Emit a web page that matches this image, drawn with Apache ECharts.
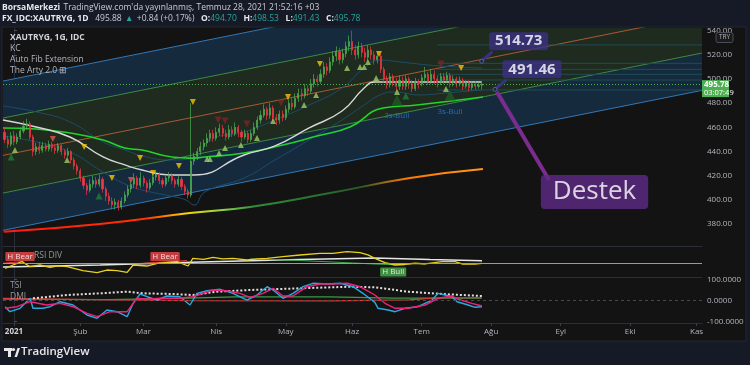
<!DOCTYPE html>
<html><head><meta charset="utf-8">
<script src="https://cdn.jsdelivr.net/npm/echarts@6/dist/echarts.min.js"></script>
<style>html,body{margin:0;padding:0;background:#161a26;}#c{width:750px;height:365px;}</style>
</head><body><div id="c"></div><script>
// ---------------- DATA ----------------
const XMIN = -3.48, XMAX = 217.72;
const monthIdx = [0,21,41,64,86,107,129,151,173,195,216];
const monthNames = ['2021','Şub','Mar','Nis','May','Haz','Tem','Ağu','Eyl','Eki','Kas'];
const priceTicks = [380,400,420,440,460,480,500,520,540];
const tsiTicks = [100,0,-100];
const firstIdx = -3;
// [open, close, low, high] per trading day
const ohlc = [
[456,450,447,460],[450,446,443,453],[446,453,444,456],[453,448,445,457],
[448,452,446,455],[452,457,450,460],[457,461,455,465],[461,463,458,467],[463,452,450,465],
[452,440,436,454],[440,444,437,447],[444,441,438,448],[441,445,439,448],[445,442,440,447],
[442,446,440,449],[446,443,440,448],[443,441,438,446],[441,445,439,447],[445,440,437,446],
[440,437,434,442],[437,440,435,443],[440,433,430,441],[433,428,425,435],[428,424,421,430],
[424,418,415,426],[418,412,409,420],[412,408,404,414],[408,413,406,417],[413,416,410,420],
[416,413,410,419],[413,417,411,421],[417,409,406,419],[409,403,399,411],[403,399,396,406],
[399,396,392,402],[396,398,392,401],[398,394,391,400],[394,399,392,402],[399,404,397,407],
[404,409,402,412],[409,413,406,416],[413,418,410,422],[418,412,409,420],[412,418,410,423],
[418,414,411,420],[414,410,406,416],[410,414,408,417],[414,419,412,422],[419,421,416,424],
[421,416,413,423],[416,413,410,418],[413,418,411,421],[418,420,415,423],[420,416,413,422],
[416,413,410,418],[413,417,411,420],[417,411,408,419],[411,407,404,413],[407,404,401,409],
[404,432,402,480],[432,436,429,439],[436,440,433,443],[440,444,437,448],[444,447,441,450],
[447,451,444,455],[451,455,448,458],[455,451,448,458],[451,456,449,460],[456,459,453,463],
[459,455,452,462],[455,452,449,458],[452,458,450,462],[458,455,452,461],[455,460,453,464],
[460,456,452,462],[456,452,448,458],[452,455,450,458],[455,450,447,457],[450,455,448,458],
[455,460,453,464],[460,466,458,469],[466,470,463,474],[470,475,468,479],[475,470,466,477],
[470,476,467,480],[476,468,465,478],[468,466,462,471],[466,471,463,474],[471,468,465,474],
[468,475,466,478],[475,480,472,483],[480,477,474,484],[477,484,475,488],[484,488,481,492],
[488,486,482,492],[486,492,484,496],[492,490,486,495],[490,496,488,500],[496,500,493,504],
[500,498,494,503],[498,504,496,508],[504,510,501,514],[510,507,503,513],[507,514,505,518],
[514,519,511,523],[519,523,515,527],[523,516,512,526],[516,521,513,525],[521,527,518,531],
[527,531,523,536],[531,524,520,540],[524,520,516,528],[520,527,517,531],[527,522,518,530],
[522,518,514,526],[518,524,515,528],[524,520,516,527],[520,516,512,523],[516,519,513,522],
[519,508,505,521],[508,500,497,510],[500,496,492,503],[496,502,493,505],[502,498,494,504],
[498,494,490,501],[494,499,491,503],[499,494,491,502],[494,500,491,503],[500,496,492,502],
[496,492,489,499],[492,498,490,501],[498,496,492,500],[496,501,494,504],[501,504,498,510],
[504,498,495,506],[498,504,496,508],[504,500,496,507],[500,497,493,503],[497,502,495,505],
[502,499,496,505],[499,503,497,506],[503,497,493,505],[497,500,494,503],[500,496,493,502],
[496,499,494,502],[499,494,491,501],[494,497,492,499],[497,493,490,499],[493,496,491,498],
[496,494,491,498],[494,494.9,492,497],[494.7,495.78,491.43,498.53]
];
const lastPrice = 495.78;
// regression channel (value at left and right edge)
const chX = [-3.5, 217.7];
const chTopBlue = [498.3, 614.2];
const chUpGreen = [467.7, 583.6];
const chMid = [436.8, 552.7];
const chLowGreen = [405.6, 521.5];
const chLowBlue = [374.7, 490.6];
// moving averages [index, price]
const maWhite = [[-3.5,466.1],[7,460.3],[17.7,452.0],[28.2,435.5],[35.1,428.9],[40.5,424.7],[49.4,420.6],[57,420.6],[72.8,437.1],[82.6,444.6],[93.4,459.5],[103.8,473.5],[110.8,492.6],[114.2,497.5],[120.6,497.5],[148,497.5]];
const maGreen = [[-3.5,459.5],[7,458.6],[17.7,455.3],[28.2,449.5],[35.1,442.9],[40.5,441.2],[50,435.4],[55.4,434.5],[60.4,435.4],[72.8,438.8],[85.1,445.4],[95.9,452.8],[106.3,460.3],[116.8,476.0],[127.5,478.5],[148.4,485.1]];
const maLong = [[-3.2,373.6],[27.2,380],[55.7,389.1],[74.7,394.1],[100,405.6],[125.3,418.1],[148.4,425.5]];
const kcUpper = [[-3.5,477.7],[7,472.8],[17.7,464.5],[28.2,447.9],[35.1,441.3],[40.5,436.4],[49.4,433.0],[57,434.7],[62,449.6],[72.8,456.2],[82.6,466.1],[93.4,478.5],[103.8,492.6],[110.8,509.1],[115.8,515.7],[122.2,514.1],[134.8,510.8],[148.1,509.1]];
const kcLower = [[-3.5,452.8],[7,447.9],[17.7,439.6],[28.2,423.0],[35.1,413.1],[40.5,408.2],[49.4,403.2],[54.4,399.9],[57,395.7],[60.4,406.5],[72.8,418.1],[82.6,433.0],[93.4,449.6],[103.8,466.1],[110.8,478.5],[115.8,486.8],[120.6,489.3],[128.2,486.8],[136.4,488.4],[148.1,490.9]];
const fibLevels = [528.2, 513.0, 508.0, 503.9, 499.2, 490.9];
const fibStart = 134;
// signal markers
const triYellowDown = [[22.2,443.7],[31,418.1],[39.9,434.6],[44,422.2],[52.2,428],[56.6,481],[86.7,485.1],[96.8,512.4],[115.5,520.7],[141.5,509.1]];
const triRedDown = [[12.3,450.4],[37,416.4]];
const triDarkRedDown = [[64.6,466.1],[66.8,465.3],[73.7,462.8],[84.5,480.2],[135.1,512.4]];
const triLimeUp = [[0.3,441.2],[16.8,433],[61.1,433.8],[62,433.8],[64.9,438.8],[66.8,442.9],[71.8,445.4],[76.9,451.2],[82,465.3],[91.8,478.5],[95.6,486.8],[105.4,509.1],[109.5,510],[110.8,510],[112,514.1],[114.6,500.8],[121.2,489.3],[136.7,491.7]];
const triDarkGreenUp = [[-0.9,435.4],[26.9,403.2],[124,486]];
const triBigGreenUp = [[121.2,482.6],[138,486.8]];
const bullLabels = [[121.1,469.4],[138,473]];
// callouts
const calloutPts = [[148,514.73],[152.2,491.46]];
const calloutTails = [[[148,514.73],[151.4,522.6]],[[152.2,491.46],[155.7,499.2]]];
const destekLine = [[152.8,489.4],[169.3,416.4]];
const destekPt = [183.7,406.5];
// RSI pane
const rsi = [[-2.8,39.6],[-0.3,47.1],[2.5,54.6],[5.1,43.3],[8.2,47.1],[11.4,41.9],[14,45],[16.8,43.3],[21.8,34.2],[26.3,29.7],[29.4,35.8],[32.6,34.2],[35.8,30.6],[37.7,47.1],[42.1,44.8],[45.3,50.9],[51.6,54.6],[55.1,44.8],[56.6,62.2],[60,60],[63,64.5],[66,61],[69.3,62.2],[73.7,58.4],[77,61],[80.1,62.2],[85.1,65.8],[90.5,69.7],[96.8,73.5],[100.9,73.5],[105.4,77.1],[109.5,74.9],[112,70],[114.2,62.2],[117.4,52.3],[120.6,47.1],[124.7,49.4],[127,51],[130.1,49.4],[135.4,54.6],[139.6,54.6],[141.8,49.4],[145.9,49.4],[148.1,50.9]];
const rsiMa = [[-3.5,42.6],[27.2,47.1],[58.9,53.9],[90.5,59.5],[114.2,62.9],[131.6,59.5],[148.1,56.8]];
const rsiGreen = [[74.7,60.6],[90.5,57.3],[114.2,49.4],[123.7,47.1]];
const rsiRed = [[[-3.5,51],[3,55]],[[39.9,50.5],[54.7,57.3]]];
const rsiMid = 50;
const bearLabels = [[1.9,66.2],[47.8,66.2]];
const bullDivLabels = [[120,31.3]];
// TSI / DMI pane
const tsi = [[-2.8,-28.6],[-1.3,-52.4],[1.9,-36.2],[5.1,11.4],[6,-36.2],[9.2,-36.2],[11.4,-28.6],[14.6,-4.8],[18.7,-20.5],[23.1,-68.1],[26.3,-83.8],[29.4,-44.3],[32.6,-52.4],[35.8,-76.2],[37.7,-12.4],[39.9,31.9],[42.1,19],[45.3,3.3],[48.4,22.4],[52.5,19],[55.7,-20.5],[57.9,35.2],[61.1,47.6],[65.2,54.3],[69.3,35.2],[73.7,3.3],[76.9,27.1],[80.1,66.7],[82,51],[85.1,11.4],[88.3,35.2],[91.5,66.7],[94.6,82.9],[99.1,79.5],[103.2,82.9],[107.3,66.7],[110.4,35.2],[114.2,-8],[115.2,-36.2],[118.4,-44.3],[120.6,-52.4],[123.7,-36.2],[127.8,-28.6],[132.3,3.3],[134.2,35.2],[136.4,27.1],[138.6,19],[140.2,-4.8],[143.7,-20.5],[145.9,-31.4],[148.1,-28.6]];
const tsiSignal = [[-2.8,-36.2],[0.9,-28.6],[5.1,-4.8],[10.4,-20.5],[14.6,-12.4],[18.7,-28.6],[23.1,-60],[26.3,-76.2],[30.4,-52.4],[35.8,-52.4],[38.9,11.4],[42.1,6.7],[46.2,11.4],[52.5,11.4],[56.6,19],[63,51],[67.4,47.6],[71.5,35.2],[74.7,16.2],[78.8,35.2],[82,59],[85.1,22.4],[88.3,22.4],[92.7,66.7],[96.8,79.5],[100.9,79.5],[105.4,82.9],[109.5,66.7],[114.2,27.1],[117.4,-12.4],[120.6,-36.2],[124.7,-36.2],[130.1,-20.5],[134.2,11.4],[138.6,22.4],[140.5,6.7],[144.9,-12.4],[148.1,-25.2]];
const tsiDots = [[6,11.4],[16.8,27.1],[27.2,35.2],[35.8,42.9],[40.8,35.2],[50.3,31.9],[56.6,27.1],[64.2,42.9],[74.7,51],[90.5,59],[106.3,66.7],[114.2,63.8],[124.7,42.9],[135.4,31.9],[148.1,22.4]];
const dmiPlus = [[-3.5,7],[30,5],[55,12],[70,18],[100,18],[120,12],[148,12]];
const dmiMinus = [[-3.5,11],[30,4],[55,0],[100,-1],[125,4],[135,14],[148,14]];

// ---------------- STYLE / BUILD ----------------
const FONT = "'Open Sans','Noto Sans',sans-serif";
const AX = '#b2b5be';
const chart = echarts.init(document.getElementById('c'), null, {renderer:'canvas'});
const candleData = ohlc.map((r,k)=>[firstIdx+k, r[0], r[1], r[2], r[3]]);
const bandDefs = [[chLowBlue, chLowGreen, '#162a3d'],[chLowGreen, chUpGreen, '#1e2b1e'],[chUpGreen, chTopBlue, '#162a3d']];

function ln(data, color, width, extra, gi){
  return Object.assign({type:'line', xAxisIndex:gi||0, yAxisIndex:gi||0, data, showSymbol:false, symbol:'none', silent:true,
    lineStyle:{color, width}, z:3, animation:false}, extra||{});
}
function tri(data, color, size, down, z){
  return {type:'scatter', data, symbol:'triangle', symbolSize:size, symbolRotate: down?180:0, itemStyle:{color}, z:z||6, silent:true, animation:false};
}
function xAx(gi, show){
  return {type:'value', gridIndex:gi, min:XMIN, max:XMAX,
    axisLine:{show:true, onZero:false, lineStyle:{color:'#2a2e39'}},
    axisTick:{show:show, customValues:monthIdx, length:3, lineStyle:{color:'#3a3e49'}},
    axisLabel:{show:show, customValues:monthIdx, margin:5, color:AX, fontSize:8, fontFamily:FONT,
      formatter:v=>{const k=monthIdx.indexOf(v); return k===0?'{b|'+monthNames[k]+'}':(k>0?monthNames[k]:'');},
      rich:{b:{fontWeight:'bold', color:'#d1d4dc', fontSize:8, fontFamily:FONT}}},
    splitLine:{show:false}};
}
const series = [];
series.push({type:'custom', xAxisIndex:0, yAxisIndex:0, clip:true, silent:true, z:1, animation:false,
  data: bandDefs.map(()=>[0,440]), encode:{x:0,y:1},
  renderItem:(params, api)=>{
    const b = bandDefs[params.dataIndex];
    const pts=[api.coord([chX[0],b[0][0]]),api.coord([chX[1],b[0][1]]),api.coord([chX[1],b[1][1]]),api.coord([chX[0],b[1][0]])];
    const cs=params.coordSys;
    return {type:'polygon', shape:{points:pts}, style:{fill:b[2]}, clipPath:{type:'rect', shape:{x:cs.x,y:cs.y,width:cs.width,height:cs.height}}};
  }});
const chPair = a=>[[chX[0],a[0]],[chX[1],a[1]]];
series.push(ln(chPair(chTopBlue),'#2f78b7',1,{z:2}));
series.push(ln(chPair(chUpGreen),'#3f8a45',1,{z:2}));
series.push(ln(chPair(chMid),'#a85a36',1,{z:2}));
series.push(ln(chPair(chLowGreen),'#3f8a45',1,{z:2}));
series.push(ln(chPair(chLowBlue),'#2f78b7',1,{z:2}));
fibLevels.forEach(v=>series.push(ln([[fibStart,v],[XMAX,v]],'#1f4d57',1,{z:2})));
series.push(ln(maLong,new echarts.graphic.LinearGradient(0,0,1,0,[
  {offset:0,color:'#ff1a1a'},{offset:0.3,color:'#ff3300'},{offset:0.38,color:'#ffd400'},{offset:0.46,color:'#8bd44a'},
  {offset:0.52,color:'#2f8f3a'},{offset:0.74,color:'#2a5a2a'},{offset:0.84,color:'#ff7a00'},{offset:1,color:'#ff9a1a'}]),2,{smooth:true}));
series.push(ln(kcUpper,'#1f4c6b',1,{smooth:true}));
series.push(ln(kcLower,'#1f4c6b',1,{smooth:true}));
series.push(ln(maGreen,'#1fd42a',1.6,{smooth:true}));
series.push(ln(maWhite,'#d8d8d8',1.4,{smooth:true}));
series.push({type:'candlestick', data:candleData, encode:{x:0,y:[1,2,3,4]}, barWidth:1.6, z:4, animation:false, silent:true,
  itemStyle:{color:'#4caf50', color0:'#f23645', borderColor:'#4caf50', borderColor0:'#f23645', borderWidth:0.7},
  markLine:{symbol:'none', silent:true, animation:false, label:{show:false}, lineStyle:{color:'#4caf50', type:[1,2], width:1}, data:[{yAxis:lastPrice}]}});
series.push(tri(triBigGreenUp,'#1e5a24',11,false,5));
series.push(tri(triDarkGreenUp,'#237a35',7,false));
series.push(tri(triLimeUp,'#9ccc65',6,false));
series.push(tri(triYellowDown,'#f5c400',6,true));
series.push(tri(triRedDown,'#ef5350',6,true));
series.push(tri(triDarkRedDown,'#7a2424',7,true));
series.push({type:'scatter', data:bullLabels, symbolSize:0, silent:true, animation:false, z:6,
  label:{show:true, position:'inside', formatter:'3s-Bull', color:'#2a7fd4', fontSize:8, fontFamily:FONT}});
calloutTails.forEach(t=>series.push(ln(t,'#3b3183',3,{z:7})));
series.push(ln(destekLine,'#7b2c8f',4,{z:7}));
series.push({type:'scatter', data:calloutPts, symbol:'circle', symbolSize:4, silent:true, animation:false, z:8,
  itemStyle:{color:'#1b2236', borderColor:'#5c6fa8', borderWidth:1},
  label:{show:true, position:'inside', offset:[37,-20], formatter:p=>p.value[1].toFixed(2), color:'#ffffff', fontSize:15, fontWeight:'bold',
    fontFamily:FONT, backgroundColor:'#3b3183', padding:[2,6,1,6], borderRadius:3}});
series.push({type:'scatter', data:[destekPt], symbolSize:0, silent:true, animation:false, z:8,
  label:{show:true, position:'inside', formatter:'Destek', color:'#ffffff', fontSize:26, fontFamily:FONT,
    backgroundColor:'#5f2a87', padding:[4,12,4,12], borderRadius:4}});
// RSI pane
series.push(ln(rsiMa,'#e6e6e6',1.5,{xAxisIndex:1,yAxisIndex:1, markLine:{symbol:'none',silent:true,animation:false,label:{show:false},lineStyle:{color:'#9a9a9a',type:'solid',width:1},data:[{yAxis:rsiMid}]}},1));
series.push(ln(rsiGreen,'#3aa64a',1.2,{},1));
rsiRed.forEach(s=>series.push(ln(s,'#e53935',1.2,{},1)));
series.push(ln(rsi,'#e8d21d',1.3,{},1));
series.push({type:'scatter', xAxisIndex:1, yAxisIndex:1, data:bearLabels, symbolSize:0, silent:true, animation:false, z:8,
  label:{show:true, position:'inside', formatter:'H Bear', color:'#ffffff', fontSize:8, fontFamily:FONT, backgroundColor:'#f0474a', padding:[1,2,0,2], borderRadius:1}});
series.push({type:'scatter', xAxisIndex:1, yAxisIndex:1, data:bullDivLabels, symbolSize:0, silent:true, animation:false, z:8,
  label:{show:true, position:'inside', formatter:'H Bull', color:'#ffffff', fontSize:8, fontFamily:FONT, backgroundColor:'#4caf50', padding:[1,2,0,2], borderRadius:1}});
// TSI pane
series.push(ln(dmiPlus,'#3d9a46',1.2,{markLine:{symbol:'none',silent:true,animation:false,label:{show:false},lineStyle:{color:'#4a4a4a',type:[3,3],width:1},data:[{yAxis:0}]}},2));
series.push(ln(dmiMinus,'#d83a35',1.2,{},2));
series.push(ln(tsiDots,'#e0e0e0',2,{lineStyle:{color:'#e0e0e0',width:2,type:[2,2]}},2));
series.push(ln(tsi,'#29a9e0',1.4,{},2));
series.push(ln(tsiSignal,'#f0217a',1.4,{},2));

const option = {
  backgroundColor:'#161a26', animation:false,
  grid:[{left:3,right:48,top:28,height:218},{left:3,right:48,top:246,height:31},{left:3,right:48,top:277,height:46}],
  xAxis:[xAx(0,false),xAx(1,false),xAx(2,true)],
  yAxis:[
    {type:'value', gridIndex:0, position:'right', min:361.79, max:542.23,
     axisLine:{show:true,lineStyle:{color:'#2a2e39'}}, axisTick:{show:true,customValues:priceTicks,length:3,lineStyle:{color:'#4a4e59'}},
     axisLabel:{customValues:priceTicks, formatter:v=>v.toFixed(2), color:AX, fontSize:8, margin:5, fontFamily:FONT}, splitLine:{show:false}},
    {type:'value', gridIndex:1, position:'right', min:20, max:90, axisLine:{show:true,lineStyle:{color:'#2a2e39'}}, axisTick:{show:false}, axisLabel:{show:false}, splitLine:{show:false}},
    {type:'value', gridIndex:2, position:'right', min:-106.2, max:112.9,
     axisLine:{show:true,lineStyle:{color:'#2a2e39'}}, axisTick:{show:true,customValues:tsiTicks,length:3,lineStyle:{color:'#4a4e59'}},
     axisLabel:{customValues:tsiTicks, formatter:v=>v.toFixed(4), color:AX, fontSize:8, margin:5, fontFamily:FONT}, splitLine:{show:false}}
  ],
  graphic:{elements:[
    {id:'panel', type:'rect', z:-10, shape:{x:2,y:27,width:744,height:314}, style:{fill:'#131313', stroke:'#23262f', lineWidth:1}, silent:true},
    {id:'h1', type:'text', left:2, top:2, z:10, style:{text:'{b|BorsaMerkezi} {n|TradingView.com\'da yayınlanmış, Temmuz 28, 2021 21:52:16 +03}',
      rich:{b:{fontWeight:'bold', fill:'#e6e8ee', fontSize:8.5, fontFamily:FONT}, n:{fill:'#c9ccd4', fontSize:8.5, fontFamily:FONT}}}},
    {id:'h2', type:'text', left:2, top:13, z:10, style:{text:'{b|FX_IDC:XAUTRYG, 1D}  {n|495.88} {t|▲} {n|+0.84 (+0.17%)}  {b|O:}{t|494.70}  {b|H:}{t|498.53}  {b|L:}{t|491.43}  {b|C:}{t|495.78}',
      rich:{b:{fontWeight:'bold', fill:'#e6e8ee', fontSize:8.5, fontFamily:FONT}, n:{fill:'#c9ccd4', fontSize:8.5, fontFamily:FONT}, t:{fill:'#26a69a', fontSize:8.5, fontFamily:FONT}}}},
    {id:'lg1', type:'text', left:10, top:33, z:10, style:{text:'XAUTRYG, 1G, IDC', fill:'#d1d4dc', fontSize:8.5, fontWeight:'bold', fontFamily:FONT}},
    {id:'lg2', type:'text', left:10, top:44, z:10, style:{text:'KC', fill:'#b2b5be', fontSize:8.5, fontFamily:FONT}},
    {id:'lg3', type:'text', left:10, top:55, z:10, style:{text:'Auto Fib Extension', fill:'#b2b5be', fontSize:8.5, fontFamily:FONT}},
    {id:'lg4', type:'text', left:10, top:66, z:10, style:{text:'The Arty 2.0 ⊞', fill:'#b2b5be', fontSize:8.5, fontFamily:FONT}},
    {id:'rsiT', type:'text', left:34, top:251, z:10, style:{text:'RSI DIV', fill:'#9598a1', fontSize:8.5, fontFamily:FONT}},
    {id:'tsiT', type:'text', left:10, top:281, z:10, style:{text:'TSI', fill:'#9598a1', fontSize:8.5, fontFamily:FONT}},
    {id:'dmiT', type:'text', left:10, top:292, z:10, style:{text:'DMI', fill:'#9598a1', fontSize:8.5, fontFamily:FONT}},
    {id:'tryB', type:'rect', z:10, shape:{x:716,y:32.5,width:17,height:10,r:2}, style:{fill:'#1b1b1b', stroke:'#4a4e59', lineWidth:1}},
    {id:'tryT', type:'text', z:11, x:724.5, y:37.5, style:{text:'TRY', fill:'#b2b5be', fontSize:6.5, fontFamily:FONT, align:'center', verticalAlign:'middle'}},
    {id:'logo1', type:'rect', z:10, shape:{x:4,y:348,width:8,height:3}, style:{fill:'#e8e8e8'}},
    {id:'logo2', type:'rect', z:10, shape:{x:8,y:348,width:3,height:9}, style:{fill:'#e8e8e8'}},
    {id:'logo3', type:'circle', z:10, shape:{cx:13.5,cy:349.5,r:1.6}, style:{fill:'#e8e8e8'}},
    {id:'logo4', type:'polygon', z:10, shape:{points:[[14.5,357],[17.5,348],[20,348],[17,357]]}, style:{fill:'#e8e8e8'}},
    {id:'logoT', type:'text', z:10, left:21, top:346, style:{text:'TradingView', fill:'#e8e8e8', fontSize:11.5, fontWeight:600, fontFamily:FONT}}
  ]},
  series
};
chart.setOption(option);
const tag = chart.convertToPixel({xAxisIndex:0,yAxisIndex:0},[XMAX,lastPrice]);
chart.setOption({graphic:{elements:[
  {id:'tagR', type:'rect', z:12, shape:{x:tag[0],y:tag[1]-4,width:27,height:17}, style:{fill:'#4caf50'}},
  {id:'tagT1', type:'text', z:13, x:tag[0]+2, y:tag[1]+0.5, style:{text:lastPrice.toFixed(2), fill:'#ffffff', fontSize:8, fontWeight:'bold', fontFamily:FONT, verticalAlign:'middle'}},
  {id:'tagT2', type:'text', z:13, x:tag[0]+2, y:tag[1]+8.5, style:{text:'03:07:49', fill:'#ffffff', fontSize:7.5, fontFamily:FONT, verticalAlign:'middle'}}
]}});
</script></body></html>
